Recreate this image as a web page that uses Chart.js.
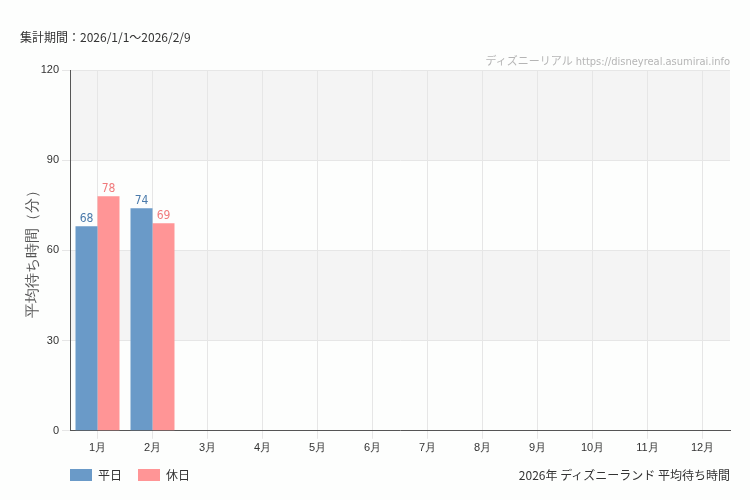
<!DOCTYPE html>
<html><head><meta charset="utf-8">
<script src="https://cdn.jsdelivr.net/npm/chart.js@4"></script>
<style>
body{margin:0;background:#fdfefd;font-family:"Noto Sans CJK JP","Noto Sans",sans-serif;}
#wrap{position:relative;width:750px;height:500px;}
.t{position:absolute;font-size:12px;color:#333;white-space:nowrap;}
.sw{display:inline-block;width:22px;height:12px;vertical-align:-1px;margin-right:6px;}
</style></head><body>
<div id="wrap">
<canvas id="c" width="750" height="500"></canvas>
<div class="t" style="left:20px;top:28px;">集計期間：2026/1/1～2026/2/9</div>
<div class="t" style="right:20px;top:52px;color:#b5b5b5;font-size:11px;font-family:'DejaVu Sans Condensed','Noto Sans CJK JP',sans-serif;">ディズニーリアル https://disneyreal.asumirai.info</div>
<div class="t" style="left:70px;top:466px;"><span class="sw" style="background:#6a9ac8"></span>平日<span class="sw" style="background:#ff9596;margin-left:16px"></span>休日</div>
<div class="t" style="right:20px;top:466px;">2026年 ディズニーランド 平均待ち時間</div>
</div>
<script>
const categories=["1月","2月","3月","4月","5月","6月","7月","8月","9月","10月","11月","12月"];
const weekday=[68,74,null,null,null,null,null,null,null,null,null,null];
const holiday=[78,69,null,null,null,null,null,null,null,null,null,null];
const yTicks=[0,30,60,90,120];
const bands={id:'bands',beforeDraw(ch){const {ctx,chartArea:a,scales:{y}}=ch;ctx.save();ctx.fillStyle='#f4f4f4';
[[90,120],[30,60]].forEach(([lo,hi])=>{const t=y.getPixelForValue(hi),b=y.getPixelForValue(lo);ctx.fillRect(a.left,t,a.right-a.left,b-t);});ctx.restore();}};
const labels={id:'labels',afterDatasetsDraw(ch){const ctx=ch.ctx;ctx.save();ctx.font='12px "DejaVu Sans Condensed","Liberation Sans Narrow",sans-serif';ctx.textAlign='center';ctx.textBaseline='bottom';
ch.data.datasets.forEach((ds,i)=>{ctx.fillStyle=i?'#f07a7c':'#4a7aab';ch.getDatasetMeta(i).data.forEach((el,j)=>{if(ds.data[j]!=null)ctx.fillText(ds.data[j],el.x,el.y-1);});});ctx.restore();}};
new Chart(document.getElementById('c'),{type:'bar',
data:{labels:categories,datasets:[
{label:'平日',data:weekday,backgroundColor:'#6a9ac8'},
{label:'休日',data:holiday,backgroundColor:'#ff9596'}]},
options:{responsive:false,animation:false,
layout:{padding:{top:70,bottom:42,left:20,right:20}},
plugins:{legend:{display:false},tooltip:{enabled:false}},
datasets:{bar:{barPercentage:1,categoryPercentage:0.8}},
scales:{
x:{grid:{color:'#e6e6e6',offset:false},border:{color:'#555'},ticks:{color:'#333',font:{size:11}}},
y:{min:0,max:120,afterBuildTicks(s){s.ticks=yTicks.map(v=>({value:v}));},afterFit(s){s.width=50;},
grid:{color:'#e6e6e6'},border:{color:'#555'},ticks:{color:'#333',font:{size:11}},
title:{display:true,text:'平均待ち時間（分）',color:'#555',font:{size:15}}}}},
plugins:[bands,labels]});
</script></body></html>
